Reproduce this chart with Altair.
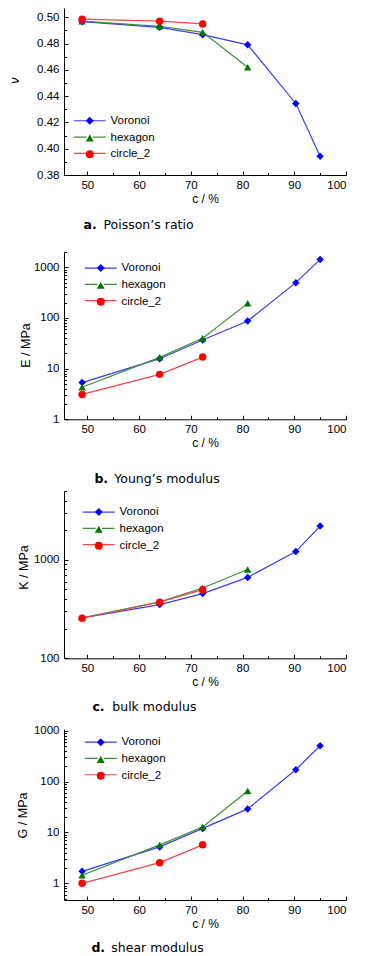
import altair as alt
import pandas as pd

# ---------------- data ----------------
series = ["Voronoi", "hexagon", "circle_2"]

c_voronoi = [49, 64, 72.3, 81, 90.3, 95]
c_hexagon = [49, 64, 72.3, 81]
c_circle = [49, 64, 72.3]

nu_voronoi = [0.4966, 0.4923, 0.4867, 0.4790, 0.4344, 0.3943]
nu_hexagon = [0.4970, 0.4931, 0.4885, 0.4620]
nu_circle = [0.4985, 0.4970, 0.4949]

E_voronoi = [5.3, 15.7, 36.6, 87, 497, 1430]
E_hexagon = [4.3, 16.7, 39.6, 194]
E_circle = [3.1, 7.7, 16.9]

K_voronoi = [257, 351, 454, 663, 1213, 2203]
K_hexagon = [258, 374, 518, 798]
K_circle = [255, 371, 498]

G_voronoi = [1.72, 5.2, 12.0, 29, 171, 507]
G_hexagon = [1.44, 5.7, 12.8, 65]
G_circle = [1.0, 2.55, 5.7]

# tick values
x_ticks = [50, 55, 60, 65, 70, 75, 80, 85, 90, 95, 100]
nu_ticks = [0.38, 0.39, 0.40, 0.41, 0.42, 0.43, 0.44, 0.45, 0.46, 0.47, 0.48, 0.49, 0.50]
log_ticks = [0.5, 0.6, 0.7, 0.8, 0.9,
             1, 2, 3, 4, 5, 6, 7, 8, 9,
             10, 20, 30, 40, 50, 60, 70, 80, 90,
             100, 200, 300, 400, 500, 600, 700, 800, 900,
             1000, 2000, 3000, 4000, 5000]

# ---------------- styles ----------------
ZW = "\u200b"
NB = "\u00a0"
line_colors = ["#3c3cf2", "#3a8f3a", "#f04848"]
marker_colors = ["#0000ff", "#007800", "#ff0000"]
marker_shapes = ["diamond", "triangle-up", "circle"]
marker_domain = [s + ZW for s in series]

AX_FONT = "Liberation Sans"
CAP_FONT = "DejaVu Sans"


def frame(vor, hexa, circ):
    rows = []
    for name, xs, ys in [("Voronoi", c_voronoi, vor), ("hexagon", c_hexagon, hexa),
                         ("circle_2", c_circle, circ)]:
        for xv, yv in zip(xs, ys):
            rows.append({"series": name, "series_m": name + ZW, "c": xv, "v": yv})
    return pd.DataFrame(rows)


def x_axis():
    return alt.Axis(
        values=x_ticks,
        labelExpr="datum.value % 10 == 0 ? datum.label : ''",
        tickSize={"expr": "datum.value % 10 == 0 ? -4 : -2.5"},
        labelPadding=8,
        title="c / %",
        titlePadding=3,
        grid=False,
        domainColor="black", tickColor="black", labelColor="black", titleColor="black",
        labelFont=AX_FONT, labelFontSize=11.5,
        titleFont=AX_FONT, titleFontSize=12, titleFontWeight="normal",
    )


def y_axis(title, values, label_expr, tick_expr, title_pad, title_y, italic=False):
    kw = {}
    if italic:
        kw["titleFontStyle"] = "italic"
    return alt.Axis(
        values=values,
        labelExpr=label_expr,
        tickSize={"expr": tick_expr},
        labelPadding=9,
        title=title,
        titlePadding=title_pad,
        titleY=title_y,
        grid=False,
        domainColor="black", tickColor="black", labelColor="black", titleColor="black",
        labelFont=AX_FONT, labelFontSize=11.5,
        titleFont=AX_FONT, titleFontSize=12.5, titleFontWeight="normal",
        **kw,
    )


LOG_MAJOR = "abs(log(datum.value)/LN10 - round(log(datum.value)/LN10)) < 1e-6"


def panel(df, y_scale, y_ax, height, legend_xy, letter, caption, cap_offset, extra):
    x = alt.X("c:Q", scale=alt.Scale(domain=[45.5, 100], nice=False, zero=False), axis=x_axis())
    y = alt.Y("v:Q", scale=y_scale, axis=y_ax)
    base = alt.Chart(df)
    common = dict(
        title=None, orient="none", legendX=legend_xy[0], legendY=legend_xy[1],
        padding=0, labelFont=AX_FONT, labelFontSize=11.5,
        labelOffset=15, rowPadding=3.3, symbolSize=64, symbolOpacity=1,
        symbolStrokeWidth=1.2,
    )
    line_leg = alt.Legend(labelColor="transparent", symbolType="M-4,0H-0.8M0.8,0H4", **common)
    mk_leg = alt.Legend(labelColor="black", **common)
    lines = base.mark_line(strokeWidth=1.2).encode(
        x=x, y=y,
        stroke=alt.Stroke("series:N", scale=alt.Scale(domain=series, range=line_colors),
                          legend=line_leg),
    )
    points = base.mark_point(filled=True, size=56, opacity=1).encode(
        x=x, y=y,
        fill=alt.Fill("series_m:N", scale=alt.Scale(domain=marker_domain, range=marker_colors),
                      legend=mk_leg),
        shape=alt.Shape("series_m:N", scale=alt.Scale(domain=marker_domain, range=marker_shapes),
                        legend=mk_leg),
    )
    sub = ZW + NB * 5 + caption
    subtitle = [sub, ZW] if extra > 0 else sub
    title = alt.TitleParams(
        text=letter, subtitle=subtitle, orient="bottom", anchor="start", dx=75,
        offset=cap_offset, font=CAP_FONT, fontSize=12.5, fontWeight="bold", color="black",
        subtitleFont=CAP_FONT, subtitleFontSize=12.5, subtitleFontWeight="normal",
        subtitleColor="black", subtitlePadding=-12.5,
        subtitleLineHeight=extra if extra > 0 else 12.5,
    )
    return alt.layer(lines, points).properties(width=282, height=height, title=title)


pa = panel(
    frame(nu_voronoi, nu_hexagon, nu_circle),
    alt.Scale(domain=[0.38, 0.507], nice=False, zero=False),
    y_axis("ν", nu_ticks,
           "abs(datum.value*50 - round(datum.value*50)) < 1e-6 ? format(datum.value, '.2f') : ''",
           "abs(datum.value*50 - round(datum.value*50)) < 1e-6 ? -4 : -2.5", 15, 72, italic=True),
    167, (20, 107), "a.", "Poisson’s ratio", 14.5, 14.7,
)
pb = panel(
    frame(E_voronoi, E_hexagon, E_circle),
    alt.Scale(type="log", domain=[1, 2000], nice=False),
    y_axis("E / MPa", [t for t in log_ticks if 1 <= t <= 2000],
           LOG_MAJOR + " ? format(datum.value, 'd') : ''",
           LOG_MAJOR + " ? -4 : -2.5", 1, 93),
    167.3, (31, 10.3), "b.", "Young’s modulus", 24, 0,
)
pc = panel(
    frame(K_voronoi, K_hexagon, K_circle),
    alt.Scale(type="log", domain=[100, 5000], nice=False),
    y_axis("K / MPa", [t for t in log_ticks if 100 <= t <= 5000],
           LOG_MAJOR + " ? format(datum.value, 'd') : ''",
           LOG_MAJOR + " ? -4 : -2.5", 3, 76),
    167.3, (29, 15.3), "c.", "bulk modulus", 13.3, 5.6,
)
pd_ = panel(
    frame(G_voronoi, G_hexagon, G_circle),
    alt.Scale(type="log", domain=[0.47, 1080], nice=False),
    y_axis("G / MPa", [t for t in log_ticks if 0.47 <= t <= 1080],
           LOG_MAJOR + " ? format(datum.value, 'd') : ''",
           LOG_MAJOR + " ? -4 : -2.5", 4, 86),
    171, (31, 7.4), "d.", "shear modulus", 12, 0,
)

chart = alt.vconcat(pa, pb, pc, pd_, spacing=4).resolve_scale(
    stroke="independent", fill="independent", shape="independent"
).resolve_legend(
    stroke="independent", fill="independent", shape="independent"
).properties(
    padding=0, background="white"
).configure_view(stroke=None)

chart.save("out.html", embed_options={"renderer": "svg", "actions": False})
